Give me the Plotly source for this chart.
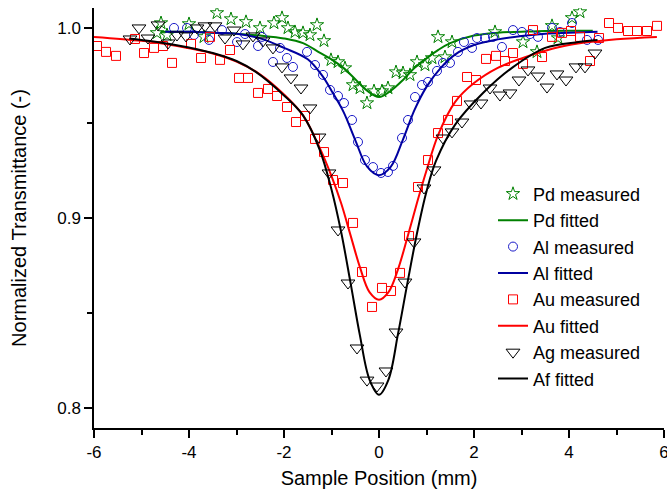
import plotly.graph_objects as go

# measured points (x in mm, normalized transmittance)
pd_x = [-4.674, -4.589, -4.463, -4.0, -3.684, -3.411, -3.116, -2.8, -2.505, -2.211, -2.042, -1.916,
        -1.768, -1.6, -1.453, -1.305, -1.158, -1.011, -0.863, -0.716, -0.547, -0.4, -0.253, -0.105,
        0.063, 0.189, 0.358, 0.505, 0.653, 0.8, 0.968, 1.116, 1.242, 1.389, 1.537, 2.442, 3.032,
        3.326, 3.642, 3.768, 4.063, 4.232]
pd_y = [0.9974, 1.0026, 0.9963, 1.0021, 0.9953, 1.0079, 1.0047, 1.0032, 1.0, 1.0026, 1.0053, 1.0,
        0.9979, 0.9974, 0.9963, 1.0016, 0.9932, 0.9832, 0.9821, 0.9789, 0.97, 0.9684, 0.9605, 0.9668,
        0.9668, 0.9684, 0.9768, 0.9763, 0.9753, 0.9821, 0.9805, 0.9842, 0.9953, 0.9847, 0.9926, 0.9979,
        0.9926, 0.9874, 1.0011, 0.9947, 1.0053, 1.0084]

al_x = [-4.316, -4.042, -3.895, -3.579, -3.305, -2.989, -2.821, -2.547, -2.463, -2.232, -2.084, -1.937,
        -1.811, -1.516, -1.347, -1.179, -1.032, -0.863, -0.737, -0.568, -0.442, -0.295, -0.126, 0.042,
        0.189, 0.295, 0.484, 0.611, 0.758, 0.905, 1.032, 1.221, 1.347, 1.495, 1.663, 1.789, 1.958,
        2.063, 2.232, 2.4, 2.589, 2.821, 3.011, 3.179, 3.347, 3.642, 3.811, 4.063, 4.379, 4.611]
al_y = [1.0, 1.0, 0.9963, 0.9937, 0.9989, 0.9926, 0.9968, 0.9905, 0.9953, 0.9821, 0.9895, 0.9842,
        0.9795, 0.9874, 0.9805, 0.9753, 0.9674, 0.9642, 0.9605, 0.9516, 0.94, 0.9305, 0.9268, 0.9237,
        0.9242, 0.9274, 0.9421, 0.9516, 0.9637, 0.97, 0.9716, 0.9774, 0.9816, 0.9816, 0.9874, 0.9926,
        0.9895, 0.9947, 0.9947, 0.9953, 0.99, 0.9989, 0.9979, 0.9968, 0.9953, 1.0, 0.9979, 1.0026,
        0.9937, 0.9937]

au_x = [-5.937, -5.747, -5.537, -5.137, -4.947, -4.737, -4.547, -4.358, -3.958, -3.747, -3.558, -3.347,
        -3.137, -2.947, -2.758, -2.547, -2.337, -2.147, -1.937, -1.747, -1.558, -1.347, -1.158, -0.968,
        -0.758, -0.547, -0.358, -0.147, 0.063, 0.253, 0.442, 0.632, 0.821, 1.032, 1.242, 1.453, 1.642,
        1.853, 2.042, 2.253, 2.463, 2.653, 2.821, 3.032, 3.242, 3.432, 3.642, 3.853, 4.042, 4.232,
        4.442, 4.632, 4.842, 5.032, 5.242, 5.432, 5.642, 5.853]
au_y = [0.9905, 0.9874, 0.9853, 0.9942, 0.9868, 0.9895, 0.9905, 0.9816, 0.9916, 0.9842, 0.9953, 0.9832,
        0.9884, 0.9737, 0.9737, 0.9658, 0.9679, 0.9642, 0.9584, 0.9505, 0.9537, 0.9416, 0.9347, 0.92,
        0.9184, 0.8974, 0.8716, 0.8532, 0.8632, 0.8616, 0.8711, 0.8905, 0.9163, 0.9305, 0.9447, 0.9516,
        0.9616, 0.9742, 0.9726, 0.9837, 0.9853, 0.9826, 0.9868, 0.9811, 0.9989, 0.9847, 0.9953, 0.9974,
        0.9984, 0.9953, 0.9826, 0.9947, 1.0026, 1.0, 0.9984, 0.9984, 0.9984, 1.0011]

ag_x = [-5.242, -5.053, -4.863, -4.653, -4.442, -4.253, -4.063, -3.832, -3.663, -3.453, -3.242, -3.053,
        -2.863, -2.653, -2.442, -2.232, -2.042, -1.853, -1.642, -1.453, -1.263, -1.053, -0.863, -0.653,
        -0.463, -0.253, -0.042, 0.147, 0.358, 0.547, 0.737, 0.947, 1.158, 1.347, 1.537, 1.747, 1.937,
        2.147, 2.337, 2.547, 2.758, 2.947, 3.137, 3.347, 3.537, 3.747, 3.937, 4.147, 4.337, 4.547]
ag_y = [0.9942, 1.0, 0.9947, 1.0016, 0.9921, 0.9963, 0.9958, 1.0, 1.0011, 1.0011, 0.9947, 0.9989,
        0.9916, 0.9958, 0.9932, 0.9895, 0.9795, 0.9737, 0.9684, 0.9579, 0.9426, 0.9237, 0.8937, 0.8658,
        0.8316, 0.8147, 0.8116, 0.8195, 0.84, 0.8663, 0.8874, 0.9158, 0.9253, 0.9421, 0.9453, 0.9505,
        0.96, 0.9605, 0.9684, 0.9647, 0.9658, 0.9726, 0.9779, 0.9747, 0.9689, 0.9758, 0.9726, 0.9795,
        0.9795, 0.9868]

# fitted curves
pd_fit_x = [-4.6, -4, -3.5, -3, -2.5, -2, -1.6, -1.25, -1, -0.75, -0.5, -0.25, 0, 0.25, 0.5, 0.75,
            1, 1.25, 1.5, 2, 2.5, 3, 3.5, 4, 4.5]
pd_fit_y = [0.998, 0.998, 0.9975, 0.997, 0.996, 0.9945, 0.992, 0.987, 0.9835, 0.979, 0.973, 0.967,
            0.9637, 0.967, 0.9725, 0.979, 0.984, 0.9885, 0.992, 0.996, 0.9975, 0.998, 0.9984, 0.9985,
            0.9985]

al_fit_x = [-4.5, -4, -3.5, -3, -2.5, -2, -1.5, -1.2, -1, -0.75, -0.5, -0.25, 0, 0.25, 0.5, 0.75,
            1, 1.3, 1.6, 2, 2.5, 3, 3.5, 4, 4.6]
al_fit_y = [0.998, 0.998, 0.9975, 0.997, 0.9945, 0.9895, 0.9835, 0.975, 0.967, 0.956, 0.941, 0.927,
            0.9225, 0.927, 0.941, 0.957, 0.969, 0.979, 0.986, 0.991, 0.994, 0.9958, 0.997, 0.9975,
            0.998]

au_fit_x = [-6, -5, -4.5, -4, -3.5, -3, -2.5, -2, -1.6, -1.25, -1, -0.8, -0.6, -0.4, -0.2, 0, 0.2,
            0.4, 0.6, 0.8, 1, 1.25, 1.6, 2, 2.5, 3, 3.5, 4, 5, 5.85]
au_fit_y = [0.9953, 0.9932, 0.9915, 0.9893, 0.9866, 0.9823, 0.9755, 0.965, 0.954, 0.937, 0.922, 0.908,
            0.891, 0.874, 0.861, 0.857, 0.861, 0.873, 0.890, 0.908, 0.925, 0.944, 0.961, 0.971, 0.979,
            0.984, 0.988, 0.991, 0.994, 0.9953]

ag_fit_x = [-5.26, -5, -4.5, -4, -3.5, -3, -2.6, -2, -1.6, -1.25, -1, -0.8, -0.6, -0.4, -0.2, 0, 0.2,
            0.4, 0.6, 0.8, 1, 1.2, 1.6, 2.2, 2.8, 3.5, 4.2, 4.6]
ag_fit_y = [0.9945, 0.9937, 0.992, 0.9897, 0.9868, 0.9826, 0.977, 0.9645, 0.954, 0.936, 0.915, 0.893,
            0.866, 0.838, 0.815, 0.807, 0.815, 0.839, 0.866, 0.892, 0.914, 0.930, 0.949, 0.966, 0.979,
            0.9895, 0.9926, 0.9937]

# axis ticks (plain hyphen minus, as in the original)
x_ticks = [-6, -4, -2, 0, 2, 4, 6]
x_ticktext = ["-6", "-4", "-2", "0", "2", "4", "6"]
y_ticks = [0.8, 0.9, 1.0]
y_ticktext = ["0.8", "0.9", "1.0"]

GREEN = "#008000"
BLUE = "#0000A0"
RED = "#FF0000"
BLACK = "#000000"

fig = go.Figure()

fig.add_trace(go.Scatter(x=pd_x, y=pd_y, mode="markers", name="Pd measured",
                         marker=dict(symbol="star-open", size=10, color=GREEN, line=dict(width=1))))
fig.add_trace(go.Scatter(x=pd_fit_x, y=pd_fit_y, mode="lines", name="Pd fitted",
                         line=dict(color=GREEN, width=2, shape="spline")))
fig.add_trace(go.Scatter(x=al_x, y=al_y, mode="markers", name="Al measured",
                         marker=dict(symbol="circle-open", size=9, color="#1C1CC8", line=dict(width=1))))
fig.add_trace(go.Scatter(x=al_fit_x, y=al_fit_y, mode="lines", name="Al fitted",
                         line=dict(color=BLUE, width=2, shape="spline")))
fig.add_trace(go.Scatter(x=au_x, y=au_y, mode="markers", name="Au measured",
                         marker=dict(symbol="square-open", size=9, color=RED, line=dict(width=1))))
fig.add_trace(go.Scatter(x=au_fit_x, y=au_fit_y, mode="lines", name="Au fitted",
                         line=dict(color=RED, width=2, shape="spline")))
fig.add_trace(go.Scatter(x=ag_x, y=ag_y, mode="markers", name="Ag measured",
                         marker=dict(symbol="triangle-down-open", size=12, color=BLACK, line=dict(width=1))))
fig.add_trace(go.Scatter(x=ag_fit_x, y=ag_fit_y, mode="lines", name="Af fitted",
                         line=dict(color=BLACK, width=2, shape="spline")))

fig.update_layout(
    width=667, height=494,
    margin=dict(l=94, r=3, t=8, b=66),
    plot_bgcolor="white", paper_bgcolor="white",
    font=dict(family="Liberation Sans, Arial, sans-serif", color="black", size=17),
    showlegend=True,
    legend=dict(x=0.70, y=0.601, xanchor="left", yanchor="top", bgcolor="rgba(0,0,0,0)",
                font=dict(size=18), tracegroupgap=0),
)

fig.update_xaxes(
    range=[-6, 6], tickmode="array", tickvals=x_ticks, ticktext=x_ticktext,
    ticklabeloverflow="allow", showgrid=False, zeroline=False, automargin=False,
    showline=True, linecolor="black", linewidth=1.5,
    ticks="outside", ticklen=8, tickwidth=1.5, tickcolor="black",
    minor=dict(ticks="outside", dtick=1, ticklen=5, tickwidth=1.5, tickcolor="black"),
    title=dict(text="Sample Position (mm)", font=dict(size=20), standoff=10),
)
fig.update_yaxes(
    range=[0.7895, 1.0105], tickmode="array", tickvals=y_ticks, ticktext=y_ticktext,
    showgrid=False, zeroline=False, automargin=False,
    showline=True, linecolor="black", linewidth=1.5,
    ticks="outside", ticklen=8, tickwidth=1.5, tickcolor="black",
    minor=dict(ticks="outside", tickvals=[0.85, 0.95], ticklen=5, tickwidth=1.5, tickcolor="black"),
    title=dict(text="Normalized Transmittance (-)", font=dict(size=20), standoff=25),
)

# the page body has a default 8px margin; drop it so the figure fills the window
fig.write_html("out.html", config={"displayModeBar": False},
               post_script="document.body.style.margin='0';")
